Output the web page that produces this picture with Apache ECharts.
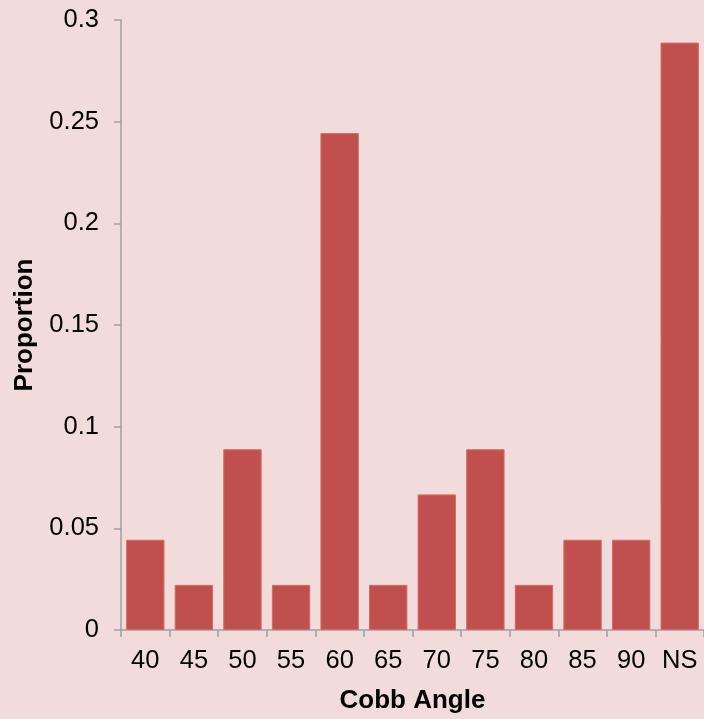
<!DOCTYPE html>
<html>
<head>
<meta charset="utf-8">
<script src="https://cdn.jsdelivr.net/npm/echarts@6/dist/echarts.min.js"></script>
<style>
html,body{margin:0;padding:0;background:#f2dcdb;}
#chart{width:704px;height:719px;}
</style>
</head>
<body>
<div id="chart"></div>
<script>
const categories = ['40','45','50','55','60','65','70','75','80','85','90','NS'];
const proportions = [0.0444,0.0222,0.0889,0.0222,0.2444,0.0222,0.0667,0.0889,0.0222,0.0444,0.0444,0.2889];
const yTicks = {min:0, max:0.3, interval:0.05};
const xTitle = 'Cobb Angle';
const yTitle = 'Proportion';

const font = '"Liberation Sans", Arial, sans-serif';
const axisGray = '#a0a0a0';
const chart = echarts.init(document.getElementById('chart'), null, {renderer:'canvas'});
chart.setOption({
  backgroundColor:'#f2dcdb',
  animation:false,
  grid:{left:121, right:0, top:20, bottom:88, containLabel:false},
  xAxis:{
    type:'category',
    data:categories,
    name:xTitle,
    nameLocation:'middle',
    nameGap:58,
    nameTextStyle:{fontFamily:font, fontSize:26, fontWeight:'bold', color:'#000'},
    axisLine:{lineStyle:{color:axisGray, width:1.5}},
    axisTick:{show:true, length:7, lineStyle:{color:axisGray, width:1.5}},
    axisLabel:{fontFamily:font, fontSize:25.5, color:'#000', margin:18},
    splitLine:{show:false}
  },
  yAxis:{
    type:'value',
    min:yTicks.min, max:yTicks.max, interval:yTicks.interval,
    name:yTitle,
    nameLocation:'middle',
    nameGap:83,
    nameTextStyle:{fontFamily:font, fontSize:26, fontWeight:'bold', color:'#000'},
    axisLine:{show:true, lineStyle:{color:axisGray, width:1.5}},
    axisTick:{show:true, length:7, lineStyle:{color:axisGray, width:1.5}},
    axisLabel:{fontFamily:font, fontSize:25.5, color:'#000', margin:22},
    splitLine:{show:false}
  },
  series:[{
    type:'bar',
    data:proportions,
    barCategoryGap:'21%',
    itemStyle:{color:'#c0504d', borderColor:'#d46a67', borderWidth:1}
  }]
});
</script>
</body>
</html>
